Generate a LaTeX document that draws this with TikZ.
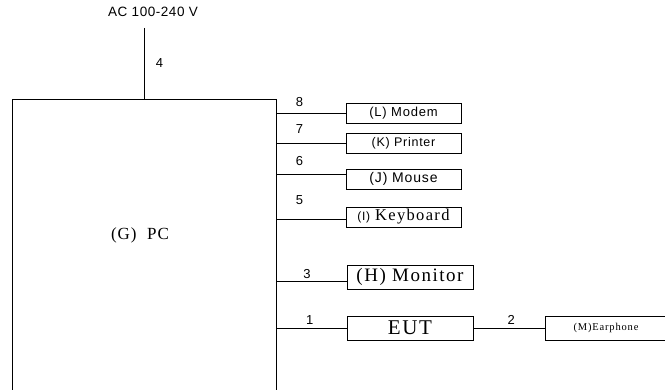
\documentclass[tikz,border=0pt]{standalone}
\usepackage{fontspec}
\setmainfont{Liberation Serif}
\setsansfont{Liberation Sans}
\usetikzlibrary{positioning}

% spaced fonts: size, letter spacing
\newcommand\sfsp[2]{\sffamily\fontsize{#1}{#1}\selectfont\addfontfeature{LetterSpace=#2}}
\newcommand\rmsp[2]{\rmfamily\fontsize{#1}{#1}\selectfont\addfontfeature{LetterSpace=#2}}

\begin{document}
\begin{tikzpicture}[x=1pt, y=-1pt, line width=0.9pt,
  dev/.style={draw,inner sep=0pt,minimum width=115pt,minimum height=20pt},
  bigdev/.style={dev,minimum width=126pt,minimum height=24pt},
  num/.style={font=\sfsp{13}{0},inner sep=0pt}]
\useasboundingbox (0,0) rectangle (665,390);

% the PC and its supply
\node[draw,inner sep=0pt,minimum width=264pt,minimum height=295pt] (pc) at (144.5,246.5) {};
\node[font=\rmsp{17}{6}] (pcname) at (140,235) {(G)\ \ PC};
\coordinate (acin) at (144.5,28);
\node[font=\sfsp{13.5}{4},anchor=south] (ac) at (153,20) {AC 100-240 V};
\draw (acin) -- node[num,right=11pt]{4} (pc.north);

% devices on the right
\node[dev,font=\sfsp{13}{6}] (modem) at (403.5,113.5) {(L) Modem\hspace{10pt}};
\node[dev,font=\sfsp{12.5}{6}] (printer) at (403.5,143) {(K) Printer};
\node[dev,font=\sfsp{14}{6}] (mouse) at (403.5,179) {(J) Mouse};
\node[dev] (keyboard) at (403.5,217) {{\sfsp{12}{6}(I)}\ \ {\rmsp{16.5}{8}Keyboard}};
\node[bigdev,font=\rmsp{19}{8}] (monitor) at (410,277) {(H) Monitor};
\node[bigdev,font=\rmsp{21}{8}] (eut) at (410,328) {EUT};
\node[dev,minimum width=122pt,minimum height=24pt,font=\rmsp{10.5}{8}] (earphone) at (606,328) {(M)Earphone\hspace{12pt}};
\coordinate (mousein) at ([yshift=5pt]mouse.west);
\coordinate (kbdin) at ([yshift=-2pt]keyboard.west);
\coordinate (monin) at ([yshift=-4pt]monitor.west);

% cables
\draw (pc.east |- modem.west) -- node[num,pos=.33,above=6pt]{8} (modem.west);
\draw (pc.east |- printer.west) -- node[num,pos=.33,above=9pt]{7} (printer.west);
\draw (pc.east |- mousein) -- node[num,pos=.33,above=8pt]{6} (mousein);
\draw (pc.east |- kbdin) -- node[num,pos=.33,above=14pt]{5} (kbdin);
\draw (pc.east |- monin) -- node[num,pos=.43,above=2pt]{3} (monin);
\draw (pc.east |- eut.west) -- node[num,pos=.47,above=3pt]{1} (eut.west);
\draw (eut) -- node[num,pos=.53,above=3pt]{2} (earphone);
\end{tikzpicture}
\end{document}
